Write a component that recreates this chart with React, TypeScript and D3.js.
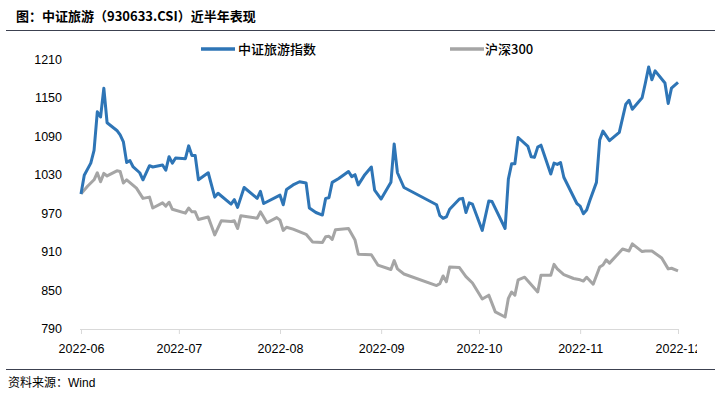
import {
  axisBottom,
  curveLinear,
  line,
  scaleLinear,
  scaleTime,
  select,
  timeFormat,
  timeMonth,
  timeParse,
} from "d3";
import { useEffect, useRef } from "react";

const parseDate = timeParse("%Y-%m-%d");
const monthFormatter = timeFormat("%Y-%m");

const travelDates = [
  "2022-06-01", "2022-06-02", "2022-06-04", "2022-06-05", "2022-06-06", "2022-06-07",
  "2022-06-08", "2022-06-09", "2022-06-12", "2022-06-13", "2022-06-14", "2022-06-15",
  "2022-06-16", "2022-06-17", "2022-06-19", "2022-06-20", "2022-06-22", "2022-06-23",
  "2022-06-26", "2022-06-27", "2022-06-28", "2022-06-29", "2022-06-30", "2022-07-03",
  "2022-07-04", "2022-07-05", "2022-07-06", "2022-07-07", "2022-07-10", "2022-07-12",
  "2022-07-13", "2022-07-17", "2022-07-18", "2022-07-19", "2022-07-21", "2022-07-25",
  "2022-07-26", "2022-07-27", "2022-08-01", "2022-08-02", "2022-08-03", "2022-08-05",
  "2022-08-07", "2022-08-09", "2022-08-10", "2022-08-12", "2022-08-14", "2022-08-15",
  "2022-08-16", "2022-08-17", "2022-08-19", "2022-08-22", "2022-08-23", "2022-08-24",
  "2022-08-25", "2022-08-27", "2022-08-29", "2022-08-30", "2022-09-01", "2022-09-04",
  "2022-09-05", "2022-09-06", "2022-09-08", "2022-09-18", "2022-09-19", "2022-09-20",
  "2022-09-21", "2022-09-22", "2022-09-25", "2022-09-26", "2022-09-27", "2022-09-28",
  "2022-09-29", "2022-10-02", "2022-10-04", "2022-10-05", "2022-10-09", "2022-10-10",
  "2022-10-11", "2022-10-12", "2022-10-13", "2022-10-16", "2022-10-17", "2022-10-18",
  "2022-10-19", "2022-10-20", "2022-10-23", "2022-10-24", "2022-10-25", "2022-10-26",
  "2022-10-27", "2022-10-31", "2022-11-01", "2022-11-02", "2022-11-03", "2022-11-04",
  "2022-11-06", "2022-11-07", "2022-11-08", "2022-11-10", "2022-11-13", "2022-11-15",
  "2022-11-16", "2022-11-17", "2022-11-20", "2022-11-21", "2022-11-22", "2022-11-23",
  "2022-11-24", "2022-11-27", "2022-11-28", "2022-11-29", "2022-12-01",
];
const travelValues = [
  1000, 1029, 1048, 1068, 1128, 1120,
  1165, 1111, 1099, 1092, 1081, 1049,
  1052, 1042, 1033, 1022, 1044, 1042,
  1045, 1037, 1058, 1048, 1056, 1055,
  1075, 1060, 1060, 1022, 1033, 995,
  1001, 984, 991, 979, 1010, 993,
  1004, 985, 998, 983, 1007, 1014,
  1019, 1017, 978, 971, 967, 993,
  994, 1018, 1024, 1035, 1027, 1030,
  1014, 1030, 1042, 1006, 992, 1018,
  1078, 1033, 1010, 983, 966, 962,
  964, 976, 992, 993, 971, 986,
  984, 943, 989, 988, 946, 1023,
  1047, 1047, 1088, 1074, 1058, 1057,
  1073, 1076, 1031, 1048, 1046, 1049,
  1026, 985, 981, 969, 975, 990,
  1018, 1084, 1098, 1083, 1096, 1140,
  1146, 1132, 1150, 1173, 1198, 1178,
  1192, 1173, 1141, 1165, 1174,
];

const hs300Dates = [
  "2022-06-01", "2022-06-03", "2022-06-05", "2022-06-06", "2022-06-07", "2022-06-08",
  "2022-06-09", "2022-06-12", "2022-06-13", "2022-06-14", "2022-06-15", "2022-06-18",
  "2022-06-20", "2022-06-22", "2022-06-23", "2022-06-26", "2022-06-27", "2022-06-28",
  "2022-06-29", "2022-07-03", "2022-07-04", "2022-07-05", "2022-07-06", "2022-07-07",
  "2022-07-10", "2022-07-12", "2022-07-14", "2022-07-17", "2022-07-18", "2022-07-19",
  "2022-07-20", "2022-07-25", "2022-07-26", "2022-07-28", "2022-07-31", "2022-08-01",
  "2022-08-02", "2022-08-03", "2022-08-05", "2022-08-09", "2022-08-11", "2022-08-14",
  "2022-08-15", "2022-08-16", "2022-08-17", "2022-08-18", "2022-08-22", "2022-08-24",
  "2022-08-25", "2022-08-29", "2022-08-31", "2022-09-04", "2022-09-05", "2022-09-06",
  "2022-09-08", "2022-09-18", "2022-09-19", "2022-09-20", "2022-09-21", "2022-09-22",
  "2022-09-25", "2022-09-27", "2022-09-29", "2022-10-02", "2022-10-04", "2022-10-06",
  "2022-10-09", "2022-10-10", "2022-10-11", "2022-10-12", "2022-10-13", "2022-10-15",
  "2022-10-19", "2022-10-20", "2022-10-23", "2022-10-24", "2022-10-25", "2022-10-27",
  "2022-10-30", "2022-11-01", "2022-11-02", "2022-11-03", "2022-11-05", "2022-11-07",
  "2022-11-08", "2022-11-09", "2022-11-10", "2022-11-14", "2022-11-16", "2022-11-17",
  "2022-11-20", "2022-11-21", "2022-11-23", "2022-11-26", "2022-11-28", "2022-11-29",
  "2022-12-01",
];
const hs300Values = [
  1000, 1012, 1022, 1033, 1019, 1032,
  1028, 1036, 1035, 1017, 1022, 1009,
  993, 995, 978, 986, 981, 987,
  976, 970, 978, 972, 972, 960,
  964, 936, 958, 957, 958, 946,
  966, 962, 972, 955, 963, 959,
  943, 948, 945, 937, 925, 924,
  933, 934, 929, 944, 946, 928,
  906, 905, 889, 882, 896, 883,
  875, 857, 860, 872, 863, 886,
  885, 871, 861, 836, 842, 816,
  808, 837, 847, 842, 866, 870,
  847, 873, 873, 890, 883, 874,
  868, 866, 864, 870, 859, 886,
  889, 897, 892, 914, 911, 922,
  910, 911, 911, 900, 883, 884,
  880,
];

const yTicks = [790, 850, 910, 970, 1030, 1090, 1150, 1210];

const seriesNames = ["中证旅游指数", "沪深300"];
const seriesColors = ["#2e75b6", "#a5a5a5"];

const title = "图：中证旅游（930633.CSI）近半年表现";
const source = "资料来源：";

const WIDTH = 721;
const HEIGHT = 401;

const cjk = "'Noto Sans CJK SC', 'Liberation Sans', sans-serif";
const latin = "'Liberation Sans', Arial, sans-serif";

const App = () => {
  const ref = useRef<SVGSVGElement>(null);

  useEffect(() => {
    if (!ref.current) return;
    document.body.style.margin = "0";

    const svg = select(ref.current);
    svg.selectAll("*").remove();

    const xScale = scaleTime()
      .domain([parseDate("2022-06-01") as Date, parseDate("2022-12-01") as Date])
      .range([81, 678]);
    const yScale = scaleLinear().domain([790, 1210]).range([328.5, 59.3]);

    // header / footer rules
    svg
      .append("text")
      .attr("x", 16)
      .attr("y", 21)
      .attr("font-family", cjk)
      .attr("font-size", 13)
      .attr("font-weight", "bold")
      .attr("fill", "#000")
      .text(title);
    svg
      .append("line")
      .attr("x1", 6)
      .attr("x2", 715)
      .attr("y1", 30.5)
      .attr("y2", 30.5)
      .attr("stroke", "#3c4150")
      .attr("stroke-width", 1.2);
    svg
      .append("line")
      .attr("x1", 6)
      .attr("x2", 715)
      .attr("y1", 369.5)
      .attr("y2", 369.5)
      .attr("stroke", "#3c4150")
      .attr("stroke-width", 1.2);
    const src = svg
      .append("text")
      .attr("x", 8)
      .attr("y", 387)
      .attr("font-size", 12)
      .attr("fill", "#000");
    src.append("tspan").attr("font-family", cjk).text(source);
    src.append("tspan").attr("font-family", latin).text("Wind");

    // y labels (no axis line)
    svg
      .append("g")
      .selectAll("text")
      .data(yTicks)
      .join("text")
      .attr("x", 62)
      .attr("y", (d) => yScale(d))
      .attr("dy", "0.36em")
      .attr("text-anchor", "end")
      .attr("font-family", latin)
      .attr("font-size", 12.5)
      .attr("fill", "#000")
      .text((d) => d);

    // x axis, last label cut at the chart edge like the source
    svg
      .append("clipPath")
      .attr("id", "xclip")
      .append("rect")
      .attr("x", 0)
      .attr("y", 0)
      .attr("width", 697)
      .attr("height", HEIGHT);

    const xAxis = axisBottom<Date>(xScale)
      .tickValues(timeMonth.range(parseDate("2022-06-01") as Date, parseDate("2022-12-02") as Date))
      .tickFormat((d) => monthFormatter(d))
      .tickSize(5)
      .tickSizeOuter(0)
      .tickPadding(10);

    const gx = svg
      .append("g")
      .attr("transform", "translate(0,329)")
      .attr("clip-path", "url(#xclip)")
      .call(xAxis);
    gx.select(".domain").attr("stroke", "#d9d9d9").attr("d", "M80,0.5H679");
    gx.selectAll(".tick line").attr("stroke", "#d9d9d9");
    gx.selectAll(".tick text")
      .attr("font-family", latin)
      .attr("font-size", 12.5)
      .attr("fill", "#000");

    // series
    const series = [
      travelDates.map((d, i) => ({ date: parseDate(d) as Date, value: travelValues[i] })),
      hs300Dates.map((d, i) => ({ date: parseDate(d) as Date, value: hs300Values[i] })),
    ];
    const path = line<{ date: Date; value: number }>()
      .x((d) => xScale(d.date))
      .y((d) => yScale(d.value))
      .curve(curveLinear);

    [1, 0].forEach((i) => {
      svg
        .append("path")
        .datum(series[i])
        .attr("d", path)
        .attr("fill", "none")
        .attr("stroke", seriesColors[i])
        .attr("stroke-width", 3)
        .attr("stroke-linejoin", "round");
    });

    // legend
    const legendX = [201, 450];
    seriesNames.forEach((name, i) => {
      const g = svg.append("g").attr("transform", `translate(${legendX[i]},49)`);
      g.append("line")
        .attr("x1", 0)
        .attr("x2", 34)
        .attr("stroke", seriesColors[i])
        .attr("stroke-width", 3.5);
      g.append("text")
        .attr("x", i === 0 ? 37 : 35)
        .attr("y", 5)
        .attr("font-family", cjk)
        .attr("font-size", 13)
        .attr("font-weight", 500)
        .attr("fill", "#000")
        .text(name);
    });
  }, []);

  return (
    <div>
      <svg ref={ref} width={WIDTH} height={HEIGHT} style={{ display: "block" }} />
    </div>
  );
};

export default App;
